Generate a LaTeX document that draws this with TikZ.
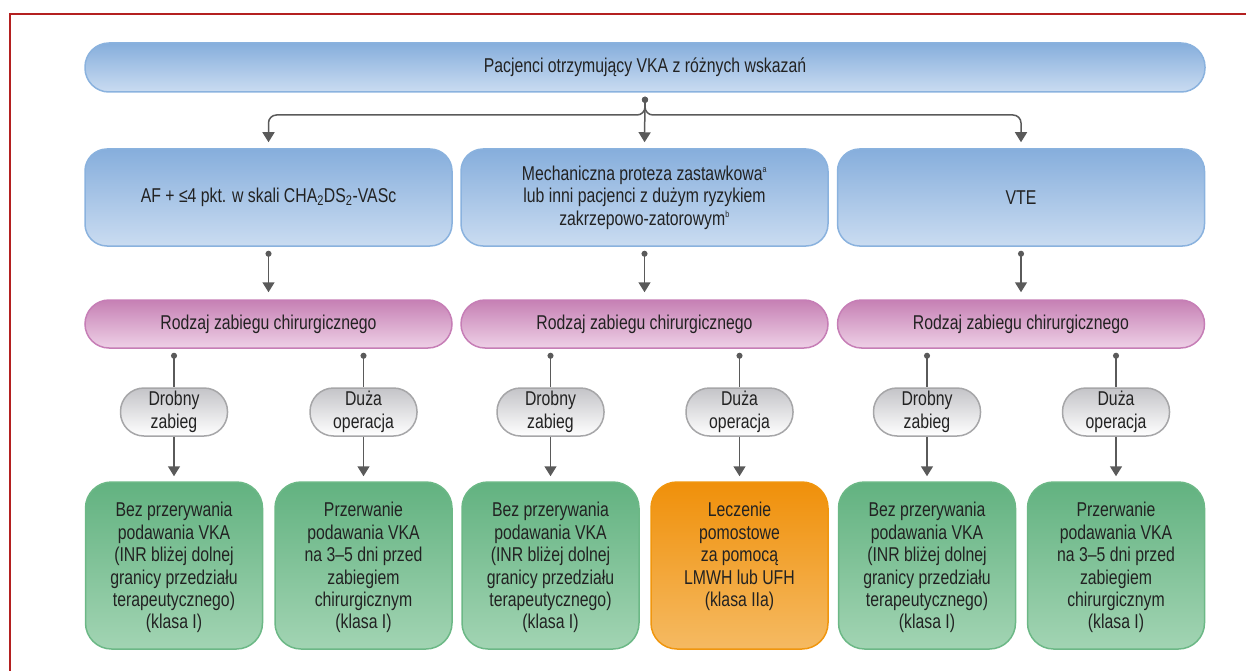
\documentclass[tikz,border=0pt]{standalone}
\usepackage{fontspec}
\setmainfont{Liberation Sans}[FakeStretch=0.79]
\usetikzlibrary{arrows.meta}
\definecolor{txt}{HTML}{222222}
\definecolor{lineg}{HTML}{5A5A5A}
\definecolor{frame}{HTML}{B42020}
\definecolor{bluetop}{HTML}{86AEDC}
\definecolor{bluebot}{HTML}{CADCF1}
\definecolor{blueedge}{HTML}{8AB2DE}
\definecolor{purtop}{HTML}{C680B4}
\definecolor{purbot}{HTML}{EED0E6}
\definecolor{puredge}{HTML}{C67EB6}
\definecolor{graytop}{HTML}{C4C4C8}
\definecolor{graybot}{HTML}{FFFFFF}
\definecolor{grayedge}{HTML}{A6A6A8}
\definecolor{grtop}{HTML}{62B280}
\definecolor{grbot}{HTML}{A2D4B3}
\definecolor{gredge}{HTML}{6CB886}
\definecolor{ortop}{HTML}{F0900A}
\definecolor{orbot}{HTML}{F5BA62}
\definecolor{oredge}{HTML}{F0960E}
\begin{document}
\begin{tikzpicture}[x=1pt,y=-1pt,
  font=\fontsize{20}{22.4}\selectfont, text=txt,
  boxbase/.style={line width=1.5pt, align=center, inner sep=0pt},
  topbox/.style={boxbase, draw=blueedge, top color=bluetop, bottom color=bluebot,
     rounded corners=24pt, minimum width=1120pt, minimum height=49pt},
  midbox/.style={boxbase, draw=blueedge, top color=bluetop, bottom color=bluebot,
     rounded corners=22pt, minimum width=367pt, minimum height=97pt},
  purbox/.style={boxbase, draw=puredge, top color=purtop, bottom color=purbot,
     rounded corners=24pt, minimum width=367pt, minimum height=48pt},
  pill/.style={boxbase, draw=grayedge, top color=graytop, bottom color=graybot,
     rounded corners=23.5pt, minimum width=107pt, minimum height=48pt},
  grbox/.style={boxbase, draw=gredge, top color=grtop, bottom color=grbot,
     rounded corners=26pt, minimum width=177pt, minimum height=167pt},
  orbox/.style={boxbase, draw=oredge, top color=ortop, bottom color=orbot,
     rounded corners=26pt, minimum width=177pt, minimum height=167pt},
  btext/.style={anchor=north, align=center, inner sep=0pt},
  conn/.style={draw=lineg, line width=1.5pt},
  dotarr/.style={conn, {Circle[length=6pt]}-{Triangle[length=10pt,width=12pt]},
     shorten <=4pt},
  dotline/.style={conn, {Circle[length=6pt]}-, shorten <=4pt},
  arr/.style={conn, -{Triangle[length=10pt,width=12pt]}},
]
\useasboundingbox (0,0) rectangle (1246,671);
\draw[frame, line width=1.3pt] (10,672) -- (10,14) -- (1247,14);

% top
\node[topbox] (top) at (645,67.5) {Pacjenci otrzymujący VKA z różnych wskazań};

% middle
\node[midbox] (m1) at (268.5,197.5) {AF + ≤4 pkt. w skali CHA\textsubscript{2}DS\textsubscript{2}-VASc};
\node[midbox] (m2) at (644.5,197.5) {Mechaniczna proteza zastawkowa\textsuperscript{\fontsize{9}{9}\selectfont a}\\lub inni pacjenci z dużym ryzykiem\\zakrzepowo-zatorowym\textsuperscript{\fontsize{9}{9}\selectfont b}};
\node[midbox] (m3) at (1021,197.5) {VTE};

% purple
\foreach \i/\x in {1/268.5,2/644.5,3/1021}
  \node[purbox] (p\i) at (\x,324) {Rodzaj zabiegu chirurgicznego};

% pills
\node[pill] (s1) at (174,412) {Drobny\\zabieg};
\node[pill] (s2) at (363.5,412) {Duża\\operacja};
\node[pill] (s3) at (550.5,412) {Drobny\\zabieg};
\node[pill] (s4) at (739.5,412) {Duża\\operacja};
\node[pill] (s5) at (927,412) {Drobny\\zabieg};
\node[pill] (s6) at (1116,412) {Duża\\operacja};

% bottom
\node[grbox] (g1) at (174,565.5) {};
\node[grbox] (g2) at (363.5,565.5) {};
\node[grbox] (g3) at (550.5,565.5) {};
\node[orbox] (g4) at (739.5,565.5) {};
\node[grbox] (g5) at (927,565.5) {};
\node[grbox] (g6) at (1116,565.5) {};

\node[btext] (t1) at ([yshift=-21pt]g1.north) {Bez przerywania\\podawania VKA\\(INR bliżej dolnej\\granicy przedziału\\terapeutycznego)\\(klasa I)};
\node[btext] (t2) at ([yshift=-21pt]g2.north) {Przerwanie\\podawania VKA\\na 3–5 dni przed\\zabiegiem\\chirurgicznym\\(klasa I)};
\node[btext] (t3) at ([yshift=-21pt]g3.north) {Bez przerywania\\podawania VKA\\(INR bliżej dolnej\\granicy przedziału\\terapeutycznego)\\(klasa I)};
\node[btext] (t4) at ([yshift=-21pt]g4.north) {Leczenie\\pomostowe\\za pomocą\\LMWH lub UFH\\(klasa IIa)};
\node[btext] (t5) at ([yshift=-21pt]g5.north) {Bez przerywania\\podawania VKA\\(INR bliżej dolnej\\granicy przedziału\\terapeutycznego)\\(klasa I)};
\node[btext] (t6) at ([yshift=-21pt]g6.north) {Przerwanie\\podawania VKA\\na 3–5 dni przed\\zabiegiem\\chirurgicznym\\(klasa I)};

% connectors top -> middle
\coordinate (j) at (645,115);
\draw[dotarr, shorten >=6pt, rounded corners=8pt] (top.south) -- (j) -| (m1.north);
\draw[dotarr, shorten >=6pt, rounded corners=8pt] (top.south) -- (j) -| (m3.north);
\draw[dotarr, shorten >=6pt] (top.south) -- (m2.north);

% middle -> purple
\foreach \i in {1,2,3}
  \draw[dotarr, shorten >=7pt] (m\i.south) -- (p\i.north);

% purple -> pills
\draw[dotline] (p1.south -| s1.north) -- (s1.north);
\draw[dotline] (p1.south -| s2.north) -- (s2.north);
\draw[dotline] (p2.south -| s3.north) -- (s3.north);
\draw[dotline] (p2.south -| s4.north) -- (s4.north);
\draw[dotline] (p3.south -| s5.north) -- (s5.north);
\draw[dotline] (p3.south -| s6.north) -- (s6.north);

% pills -> bottom
\foreach \i in {1,...,6}
  \draw[arr, shorten >=5pt] (s\i.south) -- (g\i.north);
\end{tikzpicture}
\end{document}
